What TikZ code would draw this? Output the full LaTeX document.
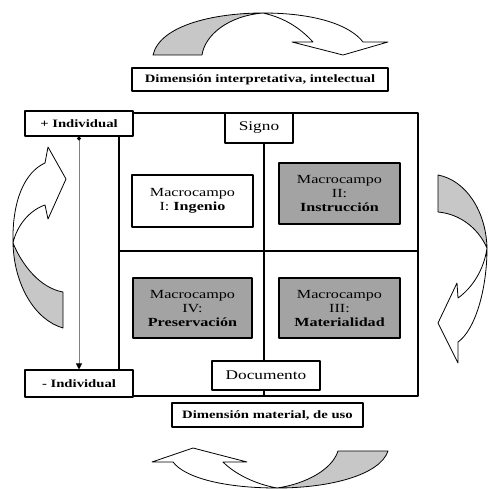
\documentclass[tikz,border=0pt]{standalone}
\usepackage{fontspec}
\setmainfont{Liberation Serif}[FakeStretch=1.3]
\usetikzlibrary{arrows.meta}
\definecolor{boxgray}{gray}{0.64}
\definecolor{bandgray}{gray}{0.78}

\begin{document}
\begin{tikzpicture}[x=1pt, y=-1pt, line join=round,
  frame/.style={draw, line width=1.1pt, fill=white, inner sep=0pt, align=center},
  tag/.style={frame, font=\fontsize{11.3}{13}\selectfont\bfseries},
  pole/.style={frame, font=\fontsize{13.3}{15}\selectfont},
  field/.style={frame, font=\fontsize{12.4}{14}\selectfont},
  band/.style={draw, line width=0.8pt}]
  \useasboundingbox (0,0) rectangle (488,489);

  \coordinate (NW) at (119,113);
  \coordinate (SE) at (418,396);
  \coordinate (L) at (119,251);
  \coordinate (R) at (418,251);
  \coordinate (T) at (264,113);
  \coordinate (B) at (264,396);

  \draw[line width=1.1pt] (NW) rectangle (SE);
  \draw[line width=1.1pt] (L) -- (R);
  \draw[line width=1.1pt] (T) -- (B);

  \node[tag, minimum width=256, minimum height=23] (dimtop) at (260,79.5) {Dimensión interpretativa, intelectual};
  \node[tag, minimum width=191, minimum height=24] (dimbot) at (267.5,415) {Dimensión material, de uso};
  \node[tag, minimum width=108, minimum height=25] (indplus) at (79,123.5) {+ Individual};
  \node[tag, minimum width=108, minimum height=27] (indminus) at (79,383.5) {- Individual};
  \node[pole, minimum width=68, minimum height=30] (signo) at (259,128) {Signo};
  \node[pole, minimum width=108, minimum height=29] (documento) at (266,375.5) {Documento};

  \node[field, minimum width=121, minimum height=52] (mcI) at (192.5,201) {Macrocampo\\I: \textbf{Ingenio}};
  \node[field, fill=boxgray, minimum width=121, minimum height=61] (mcII) at (339.5,193.5) {Macrocampo\\II:\\\textbf{Instrucción}};
  \node[field, fill=boxgray, minimum width=119, minimum height=60] (mcIV) at (192.5,308) {Macrocampo\\IV:\\\textbf{Preservación}};
  \node[field, fill=boxgray, minimum width=121, minimum height=60] (mcIII) at (339.5,308) {Macrocampo\\III:\\\textbf{Materialidad}};

  \draw[gray, line width=0.8pt, {Circle[black,length=4pt]}-{Triangle[black,length=6pt,width=6pt]}] (indplus) -- (indminus);

  % top
  \draw[band, fill=bandgray] (153,55) .. controls (160,25) and (215,13) .. (263,13)
    .. controls (228,16) and (205,35) .. (202,55) -- cycle;
  \draw[band, fill=white] (263,13) .. controls (315,13) and (350,25) .. (363,42) -- (388,42) -- (343,55)
    -- (292,42) -- (313,42) .. controls (300,28) and (285,18) .. (263,13) -- cycle;
  % right
  \draw[band, fill=bandgray] (438,175) .. controls (465,180) and (486,210) .. (487,248)
    .. controls (478,228) and (460,214) .. (438,212) -- cycle;
  \draw[band, fill=white] (487,248) .. controls (487,290) and (475,330) .. (458,342) -- (458,363) -- (438,323)
    -- (457,283) -- (458,298) .. controls (472,288) and (484,270) .. (487,248) -- cycle;
  % bottom
  \draw[band, fill=bandgray] (388,451) .. controls (380,475) and (330,488) .. (277,488)
    .. controls (305,484) and (332,470) .. (338,451) -- cycle;
  \draw[band, fill=white] (277,488) .. controls (225,488) and (185,478) .. (173,462) -- (152,462) -- (193,448)
    -- (247,462) -- (223,462) .. controls (235,474) and (255,484) .. (277,488) -- cycle;
  % left
  \draw[band, fill=bandgray] (63,328) .. controls (35,320) and (14,285) .. (13,243)
    .. controls (22,265) and (40,288) .. (63,292) -- cycle;
  \draw[band, fill=white] (13,243) .. controls (12,200) and (25,172) .. (45,163) -- (48,147) -- (66,179)
    -- (48,219) -- (45,205) .. controls (30,210) and (17,225) .. (13,243) -- cycle;
\end{tikzpicture}
\end{document}
